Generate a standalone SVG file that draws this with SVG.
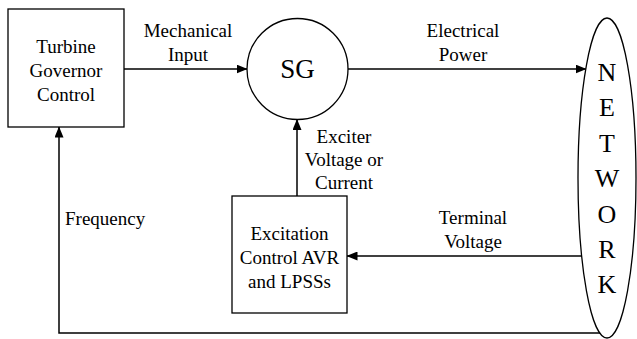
<svg xmlns="http://www.w3.org/2000/svg" width="637" height="339" viewBox="0 0 637 339">
<defs>
<style>
.box{fill:#fff;stroke:#000;stroke-width:1.3}
.ln{fill:none;stroke:#000;stroke-width:1.5}
text{font-family:'Liberation Serif','Tinos','Times New Roman','DejaVu Serif',serif;font-size:19px;fill:#000}
.c{text-anchor:middle}
.big{font-size:27px}
.net{font-size:26px;text-anchor:middle}
</style>
<marker id="ah" markerUnits="userSpaceOnUse" markerWidth="11" markerHeight="9" refX="10.5" refY="4.5" orient="auto">
<path d="M0,0 L11,4.5 L0,9 z" fill="#000"/>
</marker>
</defs>
<rect width="637" height="339" fill="#fff"/>
<g id="connectors">
<line class="ln" x1="124" y1="69" x2="247" y2="69" marker-end="url(#ah)"/>
<line class="ln" x1="348" y1="69" x2="586" y2="69" marker-end="url(#ah)"/>
<line class="ln" x1="297" y1="196" x2="297" y2="119.5" marker-end="url(#ah)"/>
<line class="ln" x1="581.5" y1="256" x2="347" y2="256" marker-end="url(#ah)"/>
<polyline class="ln" points="600,333 59,333 59,127" marker-end="url(#ah)"/>
<text class="c" x="188" y="37">Mechanical</text>
<text class="c" x="188" y="61">Input</text>
<text class="c" x="463" y="37">Electrical</text>
<text class="c" x="463" y="61">Power</text>
<text class="c" x="344" y="143">Exciter</text>
<text class="c" x="344" y="166">Voltage or</text>
<text class="c" x="344" y="189">Current</text>
<text class="c" x="473" y="224">Terminal</text>
<text class="c" x="473" y="248">Voltage</text>
<text x="65" y="225">Frequency</text>
</g>
<g id="turbine">
<rect class="box" x="8" y="9" width="116" height="118"/>
<text class="c" x="66" y="53">Turbine</text>
<text class="c" x="66" y="77">Governor</text>
<text class="c" x="66" y="101">Control</text>
</g>
<g id="sg">
<circle class="box" cx="297.5" cy="69" r="50.5"/>
<text class="c big" x="297.5" y="78">SG</text>
</g>
<g id="excitation">
<rect class="box" x="232" y="196" width="115" height="117"/>
<text class="c" x="289.5" y="240">Excitation</text>
<text class="c" x="289.5" y="264">Control AVR</text>
<text class="c" x="289.5" y="288">and LPSSs</text>
</g>
<g id="network">
<ellipse class="box" cx="607" cy="178" rx="29" ry="160"/>
<text class="net" x="607" y="81">N</text>
<text class="net" x="607" y="116">E</text>
<text class="net" x="607" y="152">T</text>
<text class="net" x="607" y="187">W</text>
<text class="net" x="607" y="223">O</text>
<text class="net" x="607" y="258">R</text>
<text class="net" x="607" y="293">K</text>
</g>
</svg>
